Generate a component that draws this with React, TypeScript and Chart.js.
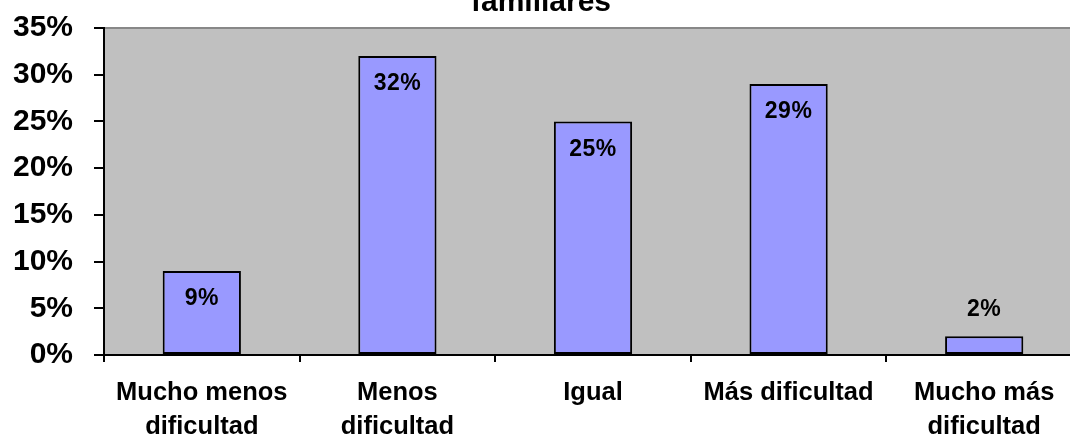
import React, { useEffect, useRef } from "react";
import { Chart, registerables } from "chart.js";

Chart.register(...registerables);

// Categories (multi-line labels as arrays), values in percent, and y-axis range.
const categories: (string | string[])[] = [
  ["Mucho menos", "dificultad"],
  ["Menos", "dificultad"],
  "Igual",
  "Más dificultad",
  ["Mucho más", "dificultad"],
];
const percentages: number[] = [9, 32, 25, 29, 2];
const yMin = 0;
const yMax = 35;
const yStep = 5;
const titleText = "familiares";

const FONT = "Arial, 'Liberation Sans', Helvetica, sans-serif";

// Grey plot area with a grey top border.
const plotBackground = {
  id: "plotBackground",
  beforeDraw(chart: any) {
    const { ctx, chartArea } = chart;
    ctx.save();
    ctx.fillStyle = "#C0C0C0";
    ctx.fillRect(chartArea.left, chartArea.top, chartArea.right - chartArea.left, chartArea.bottom - chartArea.top);
    ctx.strokeStyle = "#888888";
    ctx.lineWidth = 2;
    ctx.beginPath();
    ctx.moveTo(chartArea.left, chartArea.top);
    ctx.lineTo(chartArea.right, chartArea.top);
    ctx.stroke();
    ctx.restore();
  },
};

// Title line, partially above the top of the canvas.
const titleLine = {
  id: "titleLine",
  afterDraw(chart: any) {
    const { ctx } = chart;
    ctx.save();
    ctx.font = `bold 30px ${FONT}`;
    ctx.fillStyle = "#000";
    ctx.textAlign = "center";
    ctx.textBaseline = "alphabetic";
    ctx.fillText(titleText, 541, 11);
    ctx.restore();
  },
};

// Percentage labels: inside the top of each bar, or above it when the bar is short.
const valueLabels = {
  id: "valueLabels",
  afterDatasetsDraw(chart: any) {
    const { ctx } = chart;
    const meta = chart.getDatasetMeta(0);
    const zeroY = chart.scales.y.getPixelForValue(0);
    ctx.save();
    ctx.letterSpacing = "0.5px";
    ctx.font = `bold 23px ${FONT}`;
    ctx.fillStyle = "#000";
    ctx.textAlign = "center";
    ctx.textBaseline = "middle";
    meta.data.forEach((bar: any, i: number) => {
      const h = zeroY - bar.y;
      const y = h > 50 ? bar.y + 28 : bar.y - 27;
      ctx.fillText(`${percentages[i]}%`, bar.x, y);
    });
    ctx.restore();
  },
};

export default function App() {
  const canvasRef = useRef<HTMLCanvasElement | null>(null);

  useEffect(() => {
    if (!canvasRef.current) return;
    const chart = new Chart(canvasRef.current, {
      type: "bar",
      data: {
        labels: categories,
        datasets: [
          {
            data: percentages,
            backgroundColor: "#9999FF",
            borderColor: "#000000",
            borderWidth: 2,
            borderSkipped: false,
            barPercentage: 0.4,
            categoryPercentage: 1,
          },
        ],
      },
      options: {
        responsive: false,
        maintainAspectRatio: false,
        animation: false,
        devicePixelRatio: 1,
        layout: { padding: { top: 28, left: 0, right: 0, bottom: 0 } },
        plugins: {
          legend: { display: false },
          title: { display: false },
          tooltip: { enabled: false },
        },
        scales: {
          x: {
            offset: true,
            grid: {
              offset: true,
              drawOnChartArea: false,
              drawTicks: true,
              tickLength: 7,
              color: "#000",
              lineWidth: 2,
            },
            border: { color: "#000", width: 2 },
            ticks: {
              color: "#000",
              padding: 14,
              maxRotation: 0,
              autoSkip: false,
              font: { family: FONT, size: 25.5, weight: "bold", lineHeight: 1.33 },
            },
            afterFit(scale: any) {
              scale.height = 80;
              scale.paddingLeft = 0;
              scale.paddingRight = 0;
            },
          },
          y: {
            min: yMin,
            max: yMax,
            grid: {
              drawOnChartArea: false,
              drawTicks: true,
              tickLength: 10,
              color: "#000",
              lineWidth: 2,
            },
            border: { color: "#000", width: 2 },
            ticks: {
              stepSize: yStep,
              color: "#000",
              padding: 21,
              font: { family: FONT, size: 30, weight: "bold" },
              callback: (v: any) => `${v}%`,
            },
            afterFit(scale: any) {
              scale.width = 104;
              scale.paddingTop = 0;
              scale.paddingBottom = 0;
            },
          },
        },
      },
      plugins: [plotBackground, valueLabels, titleLine],
    });
    return () => chart.destroy();
  }, []);

  return (
    <div
      style={{
        position: "fixed",
        left: 0,
        top: 0,
        width: 1070,
        height: 435,
        overflow: "hidden",
        background: "#fff",
      }}
    >
      <canvas ref={canvasRef} width={1082} height={435} style={{ width: 1082, height: 435, display: "block" }} />
    </div>
  );
}
